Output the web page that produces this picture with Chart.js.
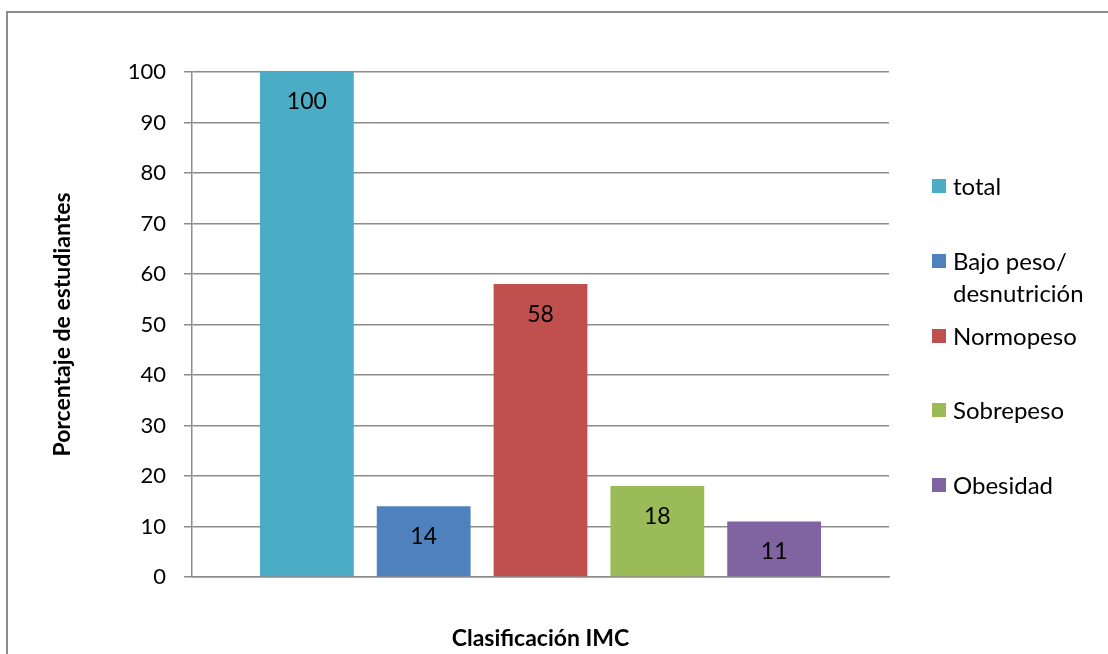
<!DOCTYPE html>
<html>
<head>
<meta charset="utf-8">
<script src="https://cdn.jsdelivr.net/npm/chart.js@4"></script>
<style>
  html, body { margin: 0; padding: 0; background: #fff; overflow: hidden; }
  #wrap { position: relative; width: 1108px; height: 654px; }
  #frame {
    position: absolute; left: 6px; top: 11px; width: 1200px; height: 800px;
    border-left: 2px solid #8c8c8c; border-top: 2px solid #8c8c8c;
  }
  canvas { position: absolute; left: 0; top: 0; }
  #legend { position: absolute; left: 0; top: 0; font-family: Lato, sans-serif; font-size: 24px; color: #000; }
  .item { position: absolute; left: 932px; display: flex; align-items: flex-start; }
  .box { width: 14px; height: 14px; margin-top: 9px; margin-right: 7px; flex: none; }
  .txt { width: 160px; line-height: 32px; }
</style>
</head>
<body>
<div id="wrap">
  <div id="frame"></div>
  <canvas id="imcChart" width="1108" height="654"></canvas>
  <div id="legend"></div>
</div>
<script>
// Clasificación IMC, porcentaje de estudiantes
const categories = ['total', 'Bajo peso/ desnutrición', 'Normopeso', 'Sobrepeso', 'Obesidad'];
const values = [100, 14, 58, 18, 11];
const barColors = ['#4BACC6', '#4F81BD', '#C0504D', '#9BBB59', '#8064A2'];
const yMin = 0;
const yMax = 100;
const yStep = 10;

const gridColor = '#8c8c8c';
const fontFamily = 'Lato, sans-serif';

// value labels drawn inside each bar, a little below its top
const valueLabels = {
    id: 'valueLabels',
    afterDatasetsDraw(chart) {
        const ctx = chart.ctx;
        ctx.save();
        ctx.font = '23px ' + fontFamily;
        ctx.fillStyle = '#000';
        ctx.textAlign = 'center';
        ctx.textBaseline = 'middle';
        chart.data.datasets.forEach((ds, i) => {
            const bar = chart.getDatasetMeta(i).data[0];
            ctx.fillText(String(ds.data[0]), bar.x, bar.y + 30);
        });
        ctx.restore();
    }
};

const datasets = categories.map((name, i) => ({
    label: name,
    data: [values[i]],
    backgroundColor: barColors[i],
    borderWidth: 0,
    categoryPercentage: 0.838,
    barPercentage: 0.803
}));

new Chart(document.getElementById('imcChart'), {
    type: 'bar',
    data: { labels: [''], datasets: datasets },
    options: {
        responsive: false,
        animation: false,
        layout: { padding: { left: 47, top: 72, right: 219, bottom: 0 } },
        plugins: {
            legend: { display: false },
            tooltip: { enabled: false }
        },
        scales: {
            x: {
                grid: { display: false, drawTicks: false },
                border: { display: true, color: gridColor, width: 1.5 },
                ticks: { display: false },
                title: {
                    display: true,
                    text: 'Clasificación IMC',
                    color: '#000',
                    font: { family: fontFamily, size: 23, weight: 'bold' },
                    padding: { top: 4, bottom: 2 }
                },
                afterFit(scale) { scale.height = 77; }
            },
            y: {
                min: yMin,
                max: yMax,
                grid: { color: gridColor, lineWidth: 1.5, tickLength: 8 },
                border: { display: true, color: gridColor, width: 1.5 },
                ticks: {
                    stepSize: yStep,
                    padding: 18,
                    color: '#000',
                    font: { family: fontFamily, size: 22 }
                },
                title: {
                    display: true,
                    text: 'Porcentaje de estudiantes',
                    color: '#000',
                    font: { family: fontFamily, size: 23, weight: 'bold' },
                    padding: { top: 2, bottom: 4 }
                },
                afterFit(scale) { scale.width = 145; }
            }
        }
    },
    plugins: [valueLabels]
});

// legend on the right, one entry per category
const legend = document.getElementById('legend');
categories.forEach((name, i) => {
    const item = document.createElement('div');
    item.className = 'item';
    item.style.top = (170 + i * 74.8) + 'px';
    item.innerHTML = '<span class="box" style="background:' + barColors[i] + '"></span><span class="txt">' + name + '</span>';
    legend.appendChild(item);
});
</script>
</body>
</html>
